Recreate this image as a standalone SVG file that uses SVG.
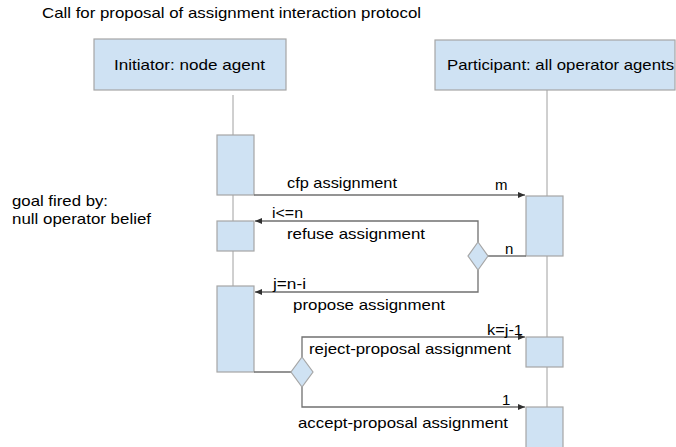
<svg xmlns="http://www.w3.org/2000/svg" width="676" height="447" viewBox="0 0 676 447">
<style>
text{font-family:"Liberation Sans",Arial,sans-serif;font-size:15px;fill:#000}
.box{fill:#cfe2f3;stroke:#a6a6a6;stroke-width:1.2}
.life{stroke:#a0a0a0;stroke-width:1;fill:none}
.msg{stroke:#707070;stroke-width:1.3;fill:none}
</style>
<defs>
<marker id="ah" markerWidth="8" markerHeight="6" refX="7" refY="3" orient="auto" markerUnits="userSpaceOnUse">
<path d="M0,0 L7,3 L0,6 Z" fill="#303030"/>
</marker>
</defs>
<rect width="676" height="447" fill="#fff"/>
<text x="42" y="18" textLength="379" lengthAdjust="spacingAndGlyphs">Call for proposal of assignment interaction protocol</text>
<g id="lifelines">
<line class="life" x1="233" y1="95" x2="233" y2="372"/>
<line class="life" x1="547" y1="90" x2="547" y2="447"/>
</g>
<g id="initiator">
<rect class="box" x="94" y="39" width="192" height="51"/>
<text x="114" y="70" textLength="151" lengthAdjust="spacingAndGlyphs">Initiator: node agent</text>
</g>
<g id="participant">
<rect class="box" x="435" y="40" width="240" height="50"/>
<text x="447" y="70" textLength="227" lengthAdjust="spacingAndGlyphs">Participant: all operator agents</text>
</g>
<g id="goal">
<text x="12" y="206" textLength="96" lengthAdjust="spacingAndGlyphs">goal fired by:</text>
<text x="12" y="224" textLength="139" lengthAdjust="spacingAndGlyphs">null operator belief</text>
</g>
<g id="act-i1"><rect class="box" x="217" y="135" width="37" height="60"/></g>
<g id="act-i2"><rect class="box" x="217" y="221" width="37" height="30"/></g>
<g id="act-i3"><rect class="box" x="217" y="286" width="37" height="86"/></g>
<g id="act-p1"><rect class="box" x="526" y="196" width="37" height="60"/></g>
<g id="act-p2"><rect class="box" x="526" y="337" width="37" height="30"/></g>
<g id="act-p3"><rect class="box" x="526" y="407" width="37" height="45"/></g>
<g id="connectors">
<line class="msg" x1="254" y1="195" x2="525" y2="195" marker-end="url(#ah)"/>
<polyline class="msg" points="478,242 478,221 255,221" marker-end="url(#ah)"/>
<line class="msg" x1="488" y1="256" x2="526" y2="256"/>
<polyline class="msg" points="478,270 478,292 255,292" marker-end="url(#ah)"/>
<line class="msg" x1="254" y1="372" x2="292" y2="372"/>
<polyline class="msg" points="302,357 302,337 525,337" marker-end="url(#ah)"/>
<polyline class="msg" points="302,387 302,407 525,407" marker-end="url(#ah)"/>
</g>
<g id="decision1"><polygon class="box" points="478,242 488,256 478,270 468,256"/></g>
<g id="decision2"><polygon class="box" points="302,357 313,372 302,387 291,372"/></g>
<g id="labels">
<text x="287" y="188" textLength="110" lengthAdjust="spacingAndGlyphs">cfp assignment</text>
<text x="495" y="190">m</text>
<text x="272" y="218" textLength="31" lengthAdjust="spacingAndGlyphs">i&lt;=n</text>
<text x="287" y="239" textLength="138" lengthAdjust="spacingAndGlyphs">refuse assignment</text>
<text x="505" y="254">n</text>
<text x="273" y="289" textLength="33" lengthAdjust="spacingAndGlyphs">j=n-i</text>
<text x="293" y="310" textLength="152" lengthAdjust="spacingAndGlyphs">propose assignment</text>
<text x="487" y="335" textLength="36" lengthAdjust="spacingAndGlyphs">k=j-1</text>
<text x="309" y="354" textLength="202" lengthAdjust="spacingAndGlyphs">reject-proposal assignment</text>
<text x="502" y="405">1</text>
<text x="298" y="428" textLength="210" lengthAdjust="spacingAndGlyphs">accept-proposal assignment</text>
</g>
</svg>
